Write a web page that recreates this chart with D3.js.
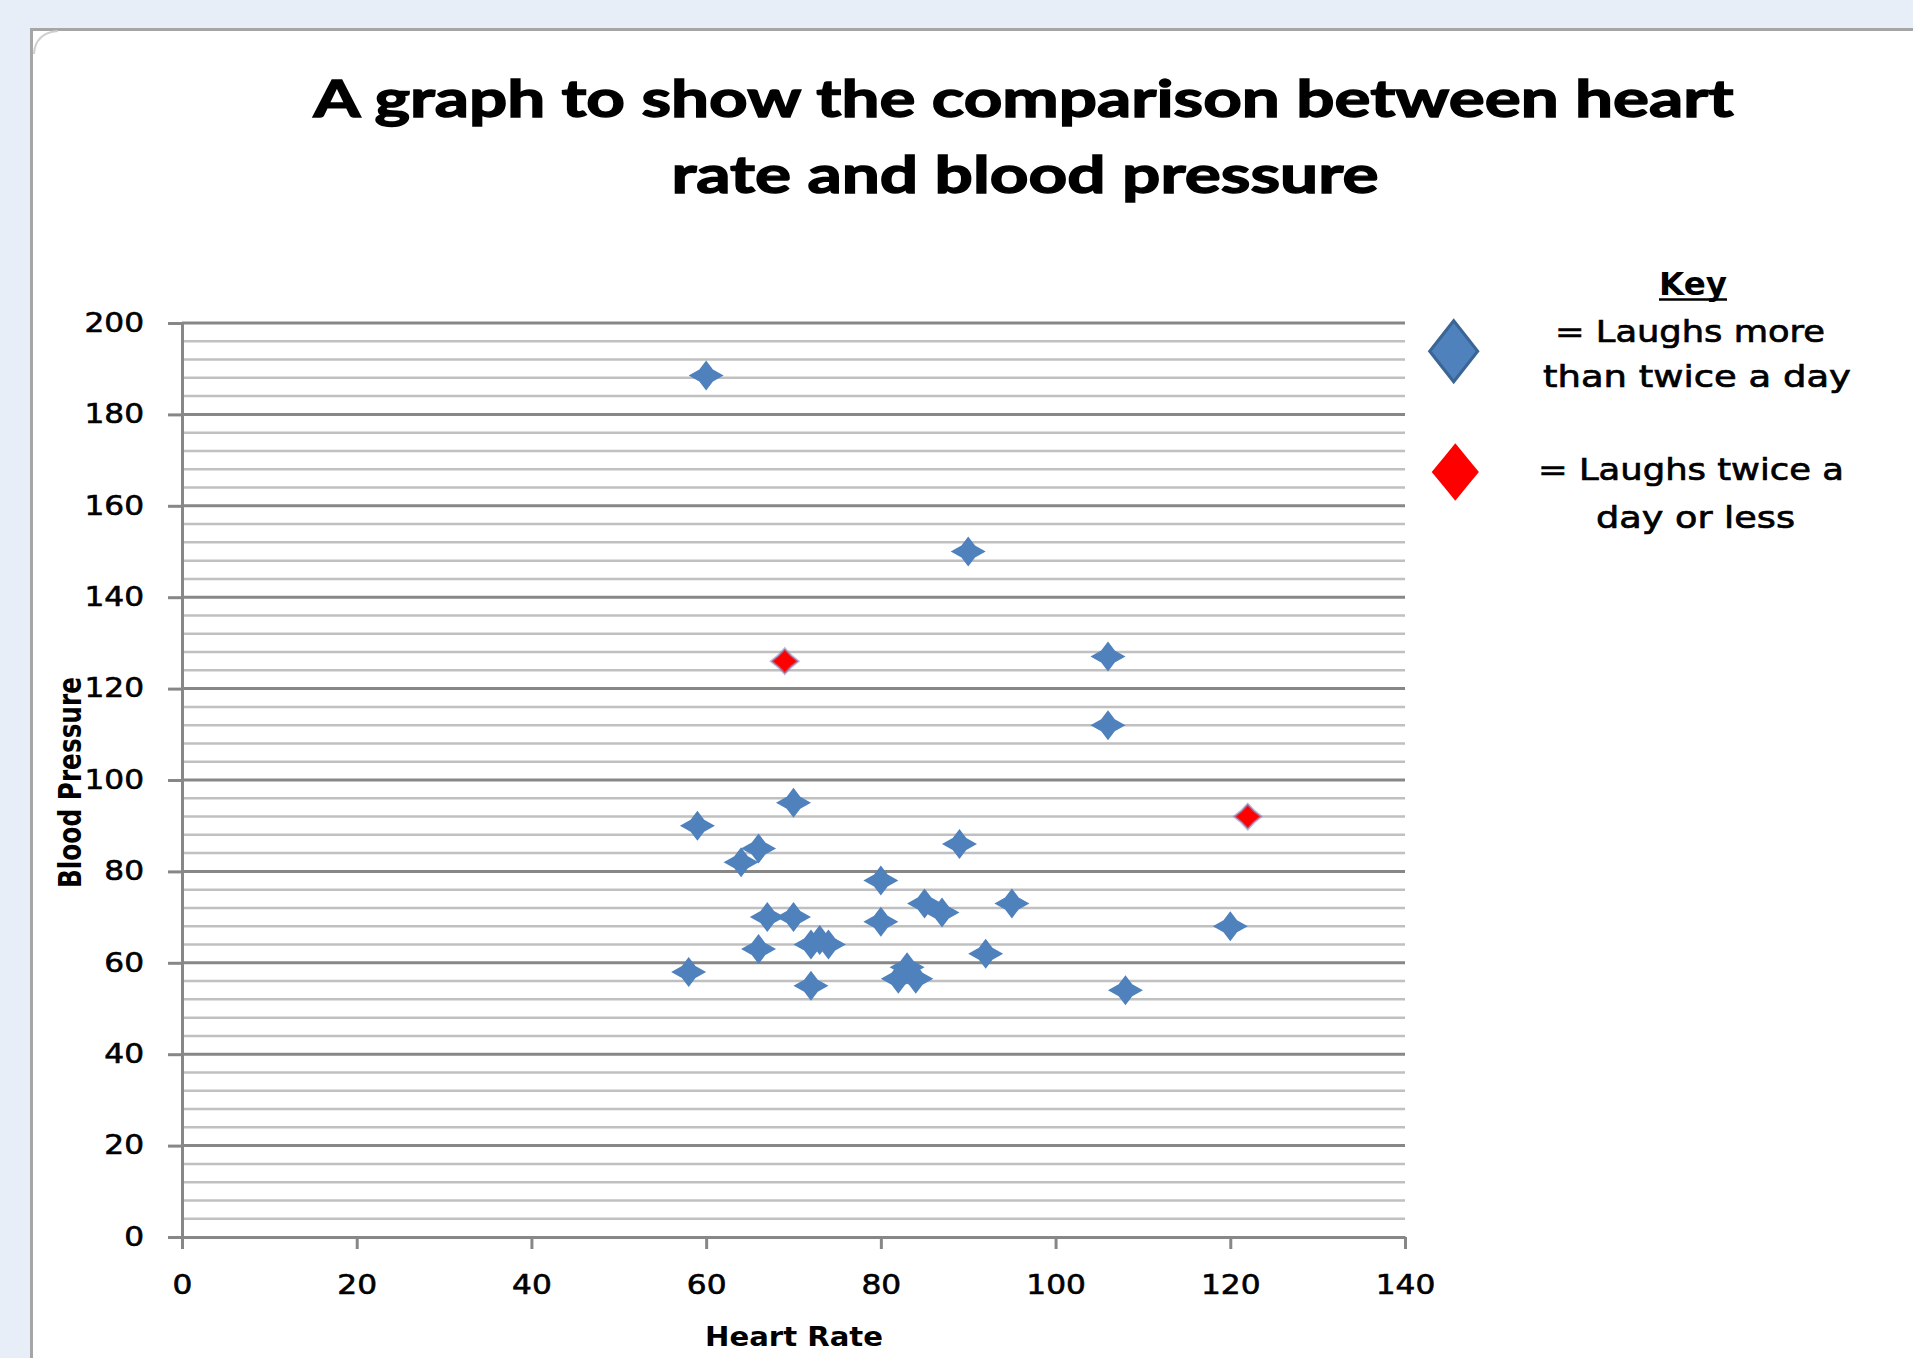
<!DOCTYPE html>
<html>
<head>
<meta charset="utf-8">
<script src="https://cdn.jsdelivr.net/npm/d3@7"></script>
<style>
  body { margin: 0; background: #e8eef8; }
  svg { display: block; }
</style>
</head>
<body>
<div id="chart"></div>
<script>
// Text
const titleLines = ["A graph to show the comparison between heart", "rate and blood pressure"];
const xLabel = "Heart Rate";
const yLabel = "Blood Pressure";
const keyTitle = "Key";
const keyMore = ["= Laughs more", "than twice a day"];
const keyLess = ["= Laughs twice a", "day or less"];

// Axis ticks
const xTicks = [0, 20, 40, 60, 80, 100, 120, 140];
const yTicks = [0, 20, 40, 60, 80, 100, 120, 140, 160, 180, 200];
const yMinorStep = 4;

// Laughs more than twice a day (blue)
const moreHeartRate = [60, 90, 106, 106, 70, 59, 66, 64, 89, 80, 85, 87, 95, 67,
                       70, 80, 72, 73, 74, 66, 58, 72, 82, 83, 84, 92, 120, 108];
const moreBloodPressure = [188.5, 150, 127, 112, 95, 90, 85, 82, 86, 78, 73, 71, 73, 70,
                           70, 69, 64, 65, 64, 63, 58, 55, 56.5, 59, 56.5, 62, 68, 54];

// Laughs twice a day or less (red)
const lessHeartRate = [69, 122];
const lessBloodPressure = [126, 92];

const width = 1913;
const height = 1358;
const plot = { left: 182, right: 1405, top: 323, bottom: 1237 };
const axisColor = "#878787";
const minorColor = "#c0c0c0";
const tickStretch = 1.2;

const svg = d3.select("#chart")
  .append("svg")
  .attr("width", width)
  .attr("height", height);

// Page background and chart panel
svg.append("rect")
  .attr("width", width)
  .attr("height", height)
  .attr("fill", "#e8eef8");

svg.append("rect")
  .attr("x", 31.5)
  .attr("y", 29.5)
  .attr("width", width)
  .attr("height", height + 50)
  .attr("fill", "#ffffff")
  .attr("stroke", "#a6a6a6")
  .attr("stroke-width", 3);

svg.append("path")
  .attr("d", "M34,54 Q35,33 58,31")
  .attr("fill", "none")
  .attr("stroke", "#cfcfcf")
  .attr("stroke-width", 2);

// Scales
const xScale = d3.scaleLinear()
  .domain([xTicks[0], xTicks[xTicks.length - 1]])
  .range([plot.left, plot.right]);

const yScale = d3.scaleLinear()
  .domain([yTicks[0], yTicks[yTicks.length - 1]])
  .range([plot.bottom, plot.top]);

// Minor gridlines
const minorValues = d3.range(yTicks[0], yTicks[yTicks.length - 1], yMinorStep)
  .filter(v => !yTicks.includes(v));

svg.append("g")
  .selectAll("line")
  .data(minorValues)
  .join("line")
  .attr("x1", plot.left)
  .attr("x2", plot.right)
  .attr("y1", d => yScale(d))
  .attr("y2", d => yScale(d))
  .attr("stroke", minorColor)
  .attr("stroke-width", 2.5);

// Major gridlines
svg.append("g")
  .selectAll("line")
  .data(yTicks.slice(1))
  .join("line")
  .attr("x1", plot.left)
  .attr("x2", plot.right)
  .attr("y1", d => yScale(d))
  .attr("y2", d => yScale(d))
  .attr("stroke", axisColor)
  .attr("stroke-width", 3);

// Y axis
const leftAxis = d3.axisLeft(yScale)
  .tickValues(yTicks)
  .tickSizeInner(14)
  .tickSizeOuter(0)
  .tickPadding(24);

const yAxisG = svg.append("g")
  .attr("transform", `translate(${plot.left}, 0)`)
  .call(leftAxis);

// X axis
const bottomAxis = d3.axisBottom(xScale)
  .tickValues(xTicks)
  .tickSizeInner(12)
  .tickSizeOuter(0)
  .tickPadding(27);

const xAxisG = svg.append("g")
  .attr("transform", `translate(0, ${plot.bottom})`)
  .call(bottomAxis);

[yAxisG, xAxisG].forEach(g => {
  g.select(".domain").attr("stroke", axisColor).attr("stroke-width", 3);
  g.selectAll(".tick line").attr("stroke", axisColor).attr("stroke-width", 3);
  g.selectAll(".tick text")
    .attr("fill", "#000")
    .attr("stroke", "#000")
    .attr("stroke-width", 0.6)
    .style("font-family", "'DejaVu Sans', sans-serif")
    .style("font-size", "26px");
});

yAxisG.selectAll(".tick text")
  .attr("x", -38 / tickStretch)
  .attr("transform", `scale(${tickStretch},1)`);

xAxisG.selectAll(".tick text")
  .attr("transform", `scale(${tickStretch},1)`);

// Marker shapes
const starPath = (hw, hh, ix, iy) =>
  `M0,${-hh}L${ix},${-iy}L${hw},0L${ix},${iy}L0,${hh}L${-ix},${iy}L${-hw},0L${-ix},${-iy}Z`;

const moreData = moreHeartRate.map((hr, i) => ({ hr, bp: moreBloodPressure[i] }));
const lessData = lessHeartRate.map((hr, i) => ({ hr, bp: lessBloodPressure[i] }));

svg.append("g")
  .selectAll("path")
  .data(moreData)
  .join("path")
  .attr("d", starPath(17.5, 15, 6.8, 6))
  .attr("transform", d => `translate(${xScale(d.hr)}, ${yScale(d.bp)})`)
  .attr("fill", "#4f81bd");

svg.append("g")
  .selectAll("path")
  .data(lessData)
  .join("path")
  .attr("d", starPath(13.5, 12.5, 6.3, 5.8))
  .attr("transform", d => `translate(${xScale(d.hr)}, ${yScale(d.bp)})`)
  .attr("fill", "#ff0000")
  .attr("stroke", "#8c90c4")
  .attr("stroke-opacity", 0.6)
  .attr("stroke-width", 2.5);

// Title
const titleLayout = [
  { x: 1023.5, y: 117, len: 1420 },
  { x: 1025, y: 193, len: 707 }
];
svg.append("g")
  .selectAll("text")
  .data(titleLines)
  .join("text")
  .attr("x", (d, i) => titleLayout[i].x)
  .attr("y", (d, i) => titleLayout[i].y)
  .attr("textLength", (d, i) => titleLayout[i].len)
  .attr("lengthAdjust", "spacingAndGlyphs")
  .attr("text-anchor", "middle")
  .attr("stroke", "#000")
  .attr("stroke-width", 1.4)
  .style("font-family", "Lato, 'Open Sans', sans-serif")
  .style("font-weight", 700)
  .style("font-size", "52px")
  .text(d => d);

// Axis titles
svg.append("text")
  .attr("x", 794)
  .attr("y", 1346)
  .attr("textLength", 178)
  .attr("lengthAdjust", "spacingAndGlyphs")
  .attr("text-anchor", "middle")
  .style("font-family", "'DejaVu Sans', sans-serif")
  .style("font-weight", 700)
  .style("font-size", "27px")
  .text(xLabel);

svg.append("text")
  .attr("transform", "translate(81, 782.5) rotate(-90)")
  .attr("textLength", 211)
  .attr("lengthAdjust", "spacingAndGlyphs")
  .attr("text-anchor", "middle")
  .style("font-family", "'DejaVu Sans', sans-serif")
  .style("font-weight", 700)
  .style("font-size", "32px")
  .text(yLabel);

// Key
const key = svg.append("g");

key.append("path")
  .attr("d", starPath(24, 30.5, 12, 15.25))
  .attr("transform", "translate(1453.7, 351.2)")
  .attr("fill", "#4f81bd")
  .attr("stroke", "#3a6595")
  .attr("stroke-width", 3);

key.append("path")
  .attr("d", starPath(23.6, 28.7, 11.8, 14.35))
  .attr("transform", "translate(1455.3, 472)")
  .attr("fill", "#ff0000");

key.append("text")
  .attr("x", 1693)
  .attr("y", 295)
  .attr("textLength", 68)
  .attr("lengthAdjust", "spacingAndGlyphs")
  .attr("text-anchor", "middle")
  .style("font-family", "'DejaVu Sans', sans-serif")
  .style("font-weight", 700)
  .style("font-size", "32px")
  .text(keyTitle);

key.append("line")
  .attr("x1", 1659)
  .attr("x2", 1727)
  .attr("y1", 299.5)
  .attr("y2", 299.5)
  .attr("stroke", "#000")
  .attr("stroke-width", 2.5);

const keyLayout = [
  { x: 1690, y: 342, len: 270 },
  { x: 1697, y: 387, len: 308 },
  { x: 1691, y: 480, len: 306 },
  { x: 1695.5, y: 528, len: 199 }
];

key.append("g")
  .selectAll("text")
  .data(keyMore.concat(keyLess))
  .join("text")
  .attr("x", (d, i) => keyLayout[i].x)
  .attr("y", (d, i) => keyLayout[i].y)
  .attr("textLength", (d, i) => keyLayout[i].len)
  .attr("lengthAdjust", "spacingAndGlyphs")
  .attr("text-anchor", "middle")
  .attr("stroke", "#000")
  .attr("stroke-width", 0.7)
  .style("font-family", "'DejaVu Sans', sans-serif")
  .style("font-size", "31px")
  .text(d => d);
</script>
</body>
</html>
